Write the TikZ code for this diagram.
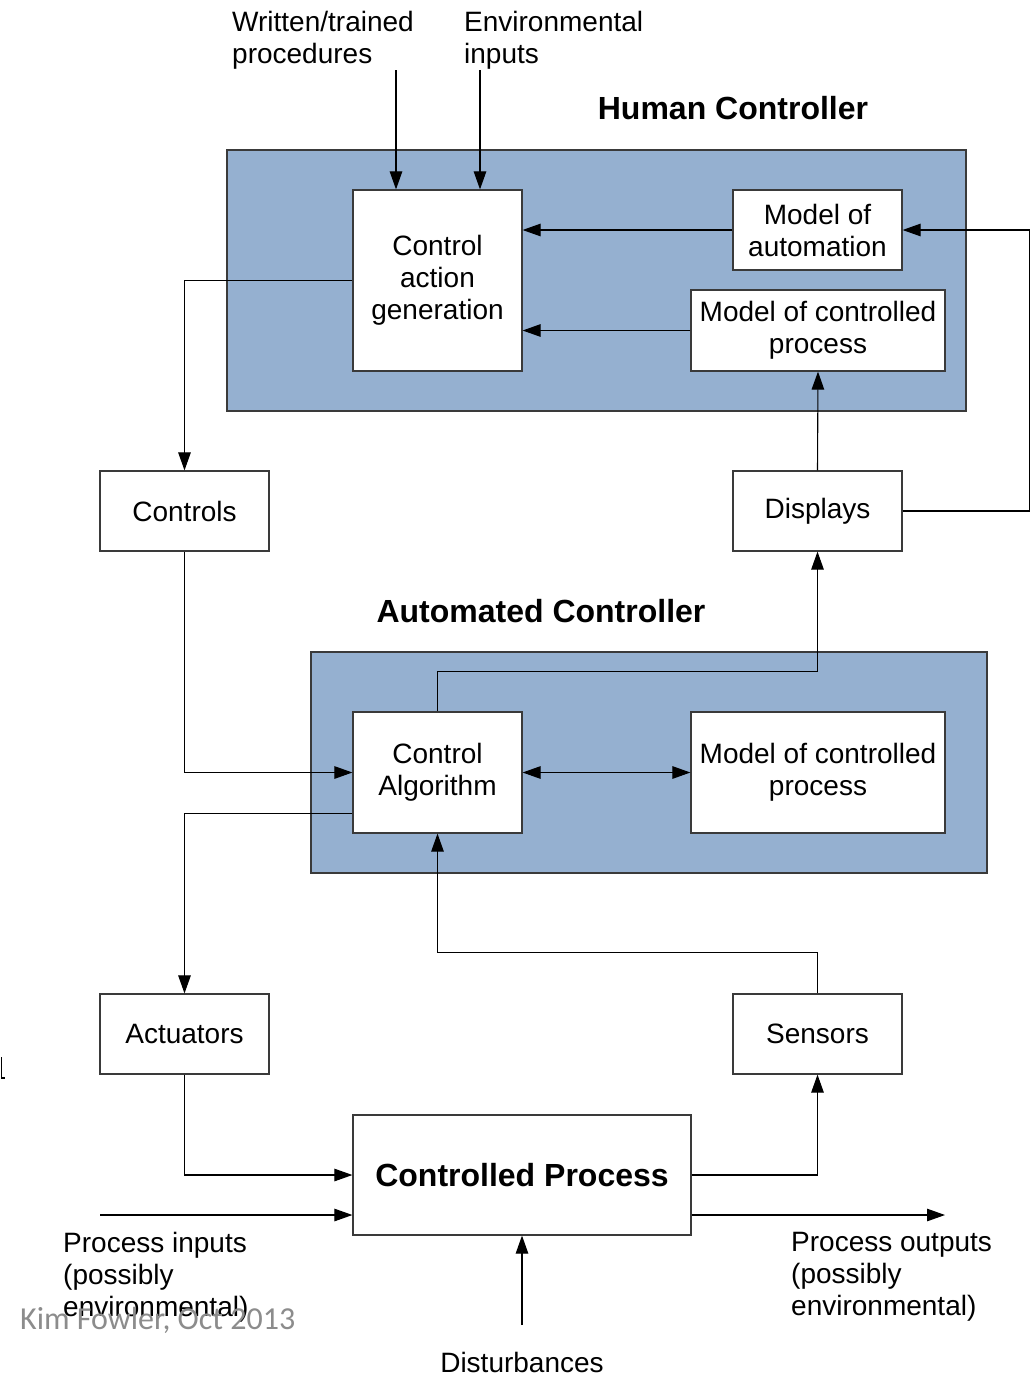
\documentclass[tikz,border=0pt]{standalone}
\usepackage{fontspec}
\setmainfont{Liberation Sans}
\newfontfamily\notefont{Carlito}
\usetikzlibrary{arrows.meta}

\definecolor{panelblue}{HTML}{95B0D0}
\definecolor{edgegray}{HTML}{3A3A3A}
\definecolor{notegray}{HTML}{8C8C8C}

\begin{document}
\begin{tikzpicture}[x=1pt,y=-1pt,
  panel/.style={draw=edgegray, fill=panelblue, line width=1.2pt},
  block/.style={draw=edgegray, fill=white, line width=1.2pt, inner sep=0pt,
    align=center, font=\fontsize{28}{32}\selectfont},
  label/.style={inner sep=0pt, align=left, font=\fontsize{28}{32}\selectfont},
  title/.style={inner sep=0pt, font=\fontsize{32}{36}\selectfont\bfseries},
  flow/.style={line width=1.1pt, -{Triangle[length=18pt,width=12.5pt]}},
  twoway/.style={line width=1.1pt, {Triangle[length=18pt,width=12.5pt]}-{Triangle[length=18pt,width=12.5pt]}},
]
\fill[white] (0,0) rectangle (1035,1376);
\useasboundingbox (0,0) rectangle (1035,1376);

% controller panels
\draw[panel] (227,150) rectangle (966,411);
\draw[panel] (311,652) rectangle (987,873);

% titles
\node[title] (humantitle) at (733,108) {Human Controller};
\node[title] (autotitle) at (541,611) {Automated Controller};

% blocks
\node[block, minimum width=169pt, minimum height=181pt] (cag) at (437.5,280.5) {Control\\action\\generation};
\node[block, minimum width=169pt, minimum height=80pt] (moa) at (817.5,230) {Model of\\automation};
\node[block, minimum width=254pt, minimum height=81pt] (mcpa) at (818,330.5) {Model of controlled\\process};
\node[block, minimum width=169pt, minimum height=80pt] (controls) at (184.5,511) {Controls};
\node[block, minimum width=169pt, minimum height=80pt] (displays) at (817.5,511) {Displays};
\node[block, minimum width=169pt, minimum height=121pt] (ca) at (437.5,772.5) {Control\\Algorithm};
\node[block, minimum width=254pt, minimum height=121pt] (mcpb) at (818,772.5) {Model of controlled\\process};
\node[block, minimum width=169pt, minimum height=80pt] (actuators) at (184.5,1034) {Actuators};
\node[block, minimum width=169pt, minimum height=80pt] (sensors) at (817.5,1034) {Sensors};
\node[block, minimum width=338pt, minimum height=120pt, font=\fontsize{32}{36}\selectfont\bfseries] (cp) at (522,1175) {Controlled Process};

% free labels
\node[label, anchor=north west] (procs) at (232,11) {Written/trained\\procedures};
\node[label, anchor=north west] (envin) at (464,11) {Environmental\\inputs};
\node[label, anchor=north west] (pinlabel) at (63,1232) {Process inputs\\(possibly\\environmental)};
\node[label, anchor=north west] (poutlabel) at (791,1232) {Process outputs\\(possibly\\environmental)};
\node[label] (distlabel) at (522,1362) {Disturbances};
\node[inner sep=0pt, anchor=base west, text=notegray, font=\notefont\fontsize{32}{36}\selectfont] (credit) at (20,1329) {Kim Fowler, Oct 2013};

% free connector ends
\coordinate (wt) at (396,70);
\coordinate (ei) at (480,70);
\coordinate (pin) at (100,1215);
\coordinate (pout) at (945,1215);
\coordinate (dist) at (522,1325);

% human controller
\draw[flow] (wt) -- (wt |- cag.north);
\draw[flow] (ei) -- (ei |- cag.north);
\draw[flow] (moa.west) -- (moa.west -| cag.east);
\draw[flow] (mcpa.west) -- (mcpa.west -| cag.east);
\draw[flow] (cag.west) -| (controls.north);
\draw[flow] (displays.north) -- (mcpa.south);
\draw[flow] (displays.east) -- ++(127,0) |- (moa.east);

% automated controller
\draw[flow] (ca.north) -- ++(0,-40) -| (displays.south);
\draw[flow] (controls.south) |- (ca.west);
\draw[twoway] (ca.east) -- (mcpb.west);
\draw[flow] ([yshift=20pt]ca.south west) -| (actuators.north);
\draw[flow] (sensors.north) -- ++(0,-41) -| (ca.south);

% controlled process
\draw[flow] (actuators.south) |- (cp.west);
\draw[flow] (cp.east) -| (sensors.south);
\draw[flow] (pin) -- (pin -| cp.west);
\draw[flow] (cp.east |- pout) -- (pout);
\draw[flow] (dist) -- (cp.south);

% clipped mark at the left edge
\draw[line width=1.8pt] (1.5,1057) -- (1.5,1078) -- (5,1078);
\end{tikzpicture}
\end{document}
